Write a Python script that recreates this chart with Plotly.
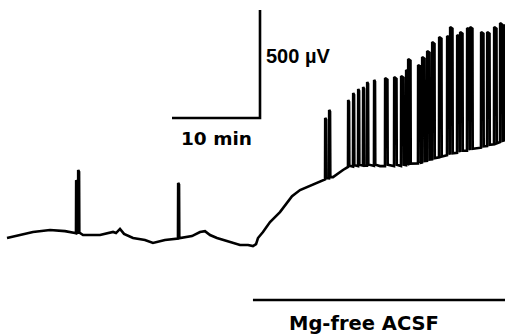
import numpy as np
import plotly.graph_objects as go

# Baseline of the extracellular DC trace (time in min, potential in µV)
base_t = [0.0, 1.48, 2.95, 4.89, 6.59, 7.73, 8.64, 10.57, 12.05, 12.39, 12.84, 13.30,
          14.32, 15.68, 16.59, 17.95, 19.20, 19.66, 21.02, 21.93, 22.50, 23.07, 23.86,
          25.11, 26.48, 27.39, 27.95, 28.30, 28.52, 29.09, 29.89, 31.02, 32.39, 33.30,
          34.43, 35.23, 35.91, 37.05, 38.18, 38.75, 40.50, 42.39, 44.66, 46.93, 49.20,
          51.48, 53.75, 55.45, 56.59]
base_v = [0, 14, 28, 37, 32, 23, 14, 14, 28, 23, 42, 19,
          0, -9, -23, -9, -5, 0, 9, 28, 32, 14, 0,
          -14, -32, -32, -37, -28, 0, 28, 74, 120, 194, 222,
          241, 255, 269, 282, 315, 329, 335, 333, 333, 347, 375,
          398, 417, 435, 454]

# Spikes (time in min, peak potential in µV)
spike_t = [7.84, 8.07, 19.43, 36.14, 36.59,
           38.75, 39.32, 39.89, 40.45, 40.91, 41.70, 42.95, 43.98, 44.77, 45.34, 45.57,
           46.70, 47.16, 47.73, 48.30, 49.09, 50.00, 50.34, 51.14, 51.48, 52.27, 52.61,
           53.86, 54.55, 55.34, 56.02, 56.48]
spike_v = [268, 315, 255, 556, 593,
           639, 671, 690, 699, 722, 732, 741, 745, 750, 778, 829,
           801, 838, 866, 907, 931, 935, 977, 940, 954, 972, 977,
           954, 954, 977, 995, 986]

# Scale bars: 10 min and 500 µV
scale_t = [18.75, 28.75]
scale_v = [556, 1056]
bar_label_x = "10 min"
bar_label_y = "500 \u00b5V"

# Drug application bar
drug_t = [27.95, 58.0]
drug_v = -287
drug_label = "Mg-free ACSF"

# Build trace
seq = []
for t, v in zip(base_t, base_v):
    seq.append((t, 0, [(t, v)]))
for t0, pk in zip(spike_t, spike_v):
    b = float(np.interp(t0, base_t, base_v))
    w = 0.12 if t0 < 42 else 0.28
    shape = [(t0, b), (t0 + 0.02, pk), (t0 + w, pk - 8), (t0 + w + 0.03, b + 6)]
    seq.append((t0, 1, shape))
seq.sort(key=lambda s: (s[0], s[1]))
xs, ys = [], []
for _, _, shp in seq:
    for a, c in shp:
        xs.append(a)
        ys.append(c)

fig = go.Figure()
fig.add_trace(go.Scatter(x=xs, y=ys, mode="lines",
                         line=dict(color="black", width=2.6), hoverinfo="skip"))
# scale bars
fig.add_trace(go.Scatter(x=[scale_t[0], scale_t[1], scale_t[1]],
                         y=[scale_v[0], scale_v[0], scale_v[1]], mode="lines",
                         line=dict(color="black", width=2.6), hoverinfo="skip"))
fig.add_trace(go.Scatter(x=drug_t, y=[drug_v, drug_v], mode="lines",
                         line=dict(color="black", width=2.6), hoverinfo="skip"))

font_a = dict(family="DejaVu Sans", size=18.5, color="black", weight="bold")
font_c = dict(family="DejaVu Sans", size=19.5, color="black", weight="bold")
font_b = dict(family="Liberation Sans", size=20, color="black", weight="bold")
fig.add_annotation(x=(scale_t[0] + scale_t[1]) / 2, y=scale_v[0] - 95, text=bar_label_x,
                   showarrow=False, font=font_a, xanchor="center", yanchor="middle")
fig.add_annotation(x=scale_t[1] + 0.5, y=(scale_v[0] + scale_v[1]) / 2 + 36, text=bar_label_y,
                   showarrow=False, font=font_b, xanchor="left", yanchor="middle")
fig.add_annotation(x=40.57, y=-398, text=drug_label,
                   showarrow=False, font=font_c, xanchor="center", yanchor="middle")

fig.update_layout(width=505, height=335, margin=dict(l=0, r=0, t=0, b=0),
                  paper_bgcolor="white", plot_bgcolor="white", showlegend=False,
                  xaxis=dict(range=[-0.795, 56.59], visible=False, fixedrange=True),
                  yaxis=dict(range=[-449, 1102], visible=False, fixedrange=True))
fig.write_html("out.html")
